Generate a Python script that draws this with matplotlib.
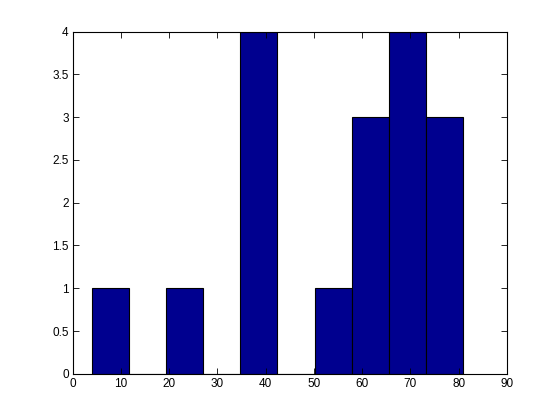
import matplotlib
matplotlib.use('Agg')
import matplotlib.pyplot as plt
from matplotlib.ticker import FormatStrFormatter, MultipleLocator

plt.rcParams['font.family'] = ['Liberation Sans', 'DejaVu Sans']

# histogram bins
bin_edges = [3.94, 11.64, 19.34, 27.04, 34.74, 42.44, 50.14, 57.84, 65.54, 73.24, 80.94]
counts = [1, 0, 1, 0, 4, 0, 1, 3, 4, 3]

widths = [bin_edges[i + 1] - bin_edges[i] for i in range(len(counts))]

fig = plt.figure(figsize=(5.6, 4.2), dpi=100)
ax = fig.add_axes([0.13, 0.11, 0.775, 0.815])

ax.bar(bin_edges[:-1], counts, width=widths, align='edge',
       color='#00008F', edgecolor='black', linewidth=0.8)

ax.set_xlim(0, 90)
ax.set_ylim(0, 4)
ax.xaxis.set_major_locator(MultipleLocator(10))
ax.yaxis.set_major_locator(MultipleLocator(0.5))
ax.yaxis.set_major_formatter(FormatStrFormatter('%g'))

ax.tick_params(direction='in', top=True, right=True, length=4, width=0.6,
               labelsize=8.5, pad=3)
for s in ax.spines.values():
    s.set_linewidth(0.8)

plt.savefig('out.png', dpi=100)
